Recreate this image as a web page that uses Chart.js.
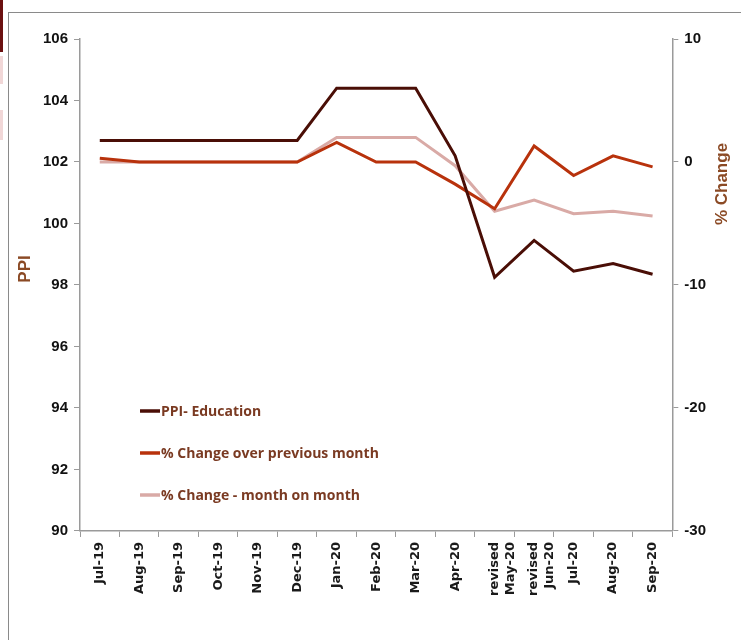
<!DOCTYPE html>
<html>
<head>
<meta charset="utf-8">
<script src="https://cdn.jsdelivr.net/npm/chart.js@4"></script>
<style>
  html,body{margin:0;padding:0;background:#fff;}
  body{width:741px;height:640px;position:relative;overflow:hidden;}
  #frame{position:absolute;left:8px;top:12px;width:733px;height:628px;border-left:1.5px solid #8a8a8a;border-top:1.5px solid #8a8a8a;box-sizing:border-box;}
  #strip{position:absolute;left:0;top:0;width:3px;height:52px;background:#6b1010;}
  #strip2{position:absolute;left:0;top:56px;width:3px;height:28px;background:#f1d7d7;}
  #strip3{position:absolute;left:0;top:110px;width:3px;height:30px;background:#f1d7d7;}
  #wrap{position:absolute;left:10px;top:14px;width:731px;height:626px;}
</style>
</head>
<body>
<div id="strip"></div><div id="strip2"></div><div id="strip3"></div>
<div id="frame"></div>
<div id="wrap"><canvas id="c"></canvas></div>
<script>
const categories = ['Jul-19','Aug-19','Sep-19','Oct-19','Nov-19','Dec-19','Jan-20','Feb-20','Mar-20','Apr-20',['revised','May-20'],['revised','Jun-20'],'Jul-20','Aug-20','Sep-20'];
const ppiEducation = [102.7,102.7,102.7,102.7,102.7,102.7,104.4,104.4,104.4,102.2,98.25,99.45,98.45,98.7,98.35];
const changePrevMonth = [0.3,0,0,0,0,0,1.6,0,0,-1.8,-3.8,1.3,-1.1,0.5,-0.4];
const changeMonthOnMonth = [0,0,0,0,0,0,2.0,2.0,2.0,-0.3,-4.0,-3.1,-4.2,-4.0,-4.4];
const leftTicks = {min:90,max:106,step:2};
const rightTicks = {min:-30,max:10,step:10};
const seriesNames = ['PPI- Education','% Change over previous month','% Change - month on month'];
const leftTitle = 'PPI';
const rightTitle = '% Change';
const colors = ['#4a0e06','#b8320c','#d9aaa6'];

const legendPlugin = {
  id:'inLegend',
  afterDraw(chart){
    const ctx = chart.ctx, a = chart.chartArea;
    ctx.save();
    const x0 = a.left + 60, y0 = a.top + 372, gap = 42;
    chart.data.datasets.forEach((ds,i)=>{
      const y = y0 + i*gap;
      ctx.strokeStyle = ds.borderColor; ctx.lineWidth = 3.5;
      ctx.beginPath(); ctx.moveTo(x0,y); ctx.lineTo(x0+20,y); ctx.stroke();
      ctx.fillStyle = '#7a3a22';
      ctx.font = 'bold 14px "Liberation Sans Narrow","Open Sans",sans-serif';
      ctx.textBaseline='middle';
      ctx.fillText(ds.label, x0+21, y+1);
    });
    ctx.restore();
    // axis titles, reading bottom-to-top
    const drawTitle = (text, x, y) => {
      ctx.save();
      ctx.translate(x, y);
      ctx.rotate(-Math.PI/2);
      ctx.fillStyle = '#8b4a25';
      ctx.font = 'bold 17px "Liberation Sans",Arial,sans-serif';
      ctx.textAlign='center'; ctx.textBaseline='middle';
      ctx.fillText(text,0,0);
      ctx.restore();
    };
    drawTitle(leftTitle, chart.scales.y.left - 12, a.top + 230);
    drawTitle(rightTitle, chart.scales.y1.right + 10, a.top + 145);
  }
};

new Chart(document.getElementById('c'),{
  type:'line',
  data:{
    labels:categories,
    datasets:[
      {label:seriesNames[0],data:ppiEducation,borderColor:colors[0],backgroundColor:colors[0],yAxisID:'y',borderWidth:3,pointRadius:0,tension:0},
      {label:seriesNames[1],data:changePrevMonth,borderColor:colors[1],backgroundColor:colors[1],yAxisID:'y1',borderWidth:3,pointRadius:0,tension:0},
      {label:seriesNames[2],data:changeMonthOnMonth,borderColor:colors[2],backgroundColor:colors[2],yAxisID:'y1',borderWidth:3,pointRadius:0,tension:0}
    ]
  },
  options:{
    responsive:true,maintainAspectRatio:false,animation:false,
    layout:{padding:{top:25,right:29,left:27,bottom:39}},
    plugins:{legend:{display:false},tooltip:{enabled:false}},
    scales:{
      x:{
        offset:true,
        grid:{offset:true,drawOnChartArea:false,drawTicks:true,tickLength:6,color:'#9a9a9a'},
        border:{color:'#9a9a9a',width:1.5},
        ticks:{minRotation:90,maxRotation:90,autoSkip:false,color:'#1a1a1a',padding:5,
          font:{family:'"DejaVu Sans",sans-serif',size:13,weight:'bold'}}
      },
      y:{
        position:'left',min:leftTicks.min,max:leftTicks.max,
        ticks:{stepSize:leftTicks.step,color:'#111',padding:6,
          font:{family:'"Liberation Sans Narrow","Liberation Sans",sans-serif',size:15,weight:'bold'}},
        grid:{drawOnChartArea:false,drawTicks:true,tickLength:6,color:'#9a9a9a'},
        border:{color:'#9a9a9a',width:1.5},
        title:{display:false}
      },
      y1:{
        position:'right',min:rightTicks.min,max:rightTicks.max,
        ticks:{stepSize:rightTicks.step,color:'#111',padding:6,
          font:{family:'"Liberation Sans Narrow","Liberation Sans",sans-serif',size:15,weight:'bold'}},
        grid:{drawOnChartArea:false,drawTicks:true,tickLength:6,color:'#9a9a9a'},
        border:{color:'#9a9a9a',width:1.5},
        title:{display:false}
      }
    }
  },
  plugins:[legendPlugin]
});
</script>
</body>
</html>
